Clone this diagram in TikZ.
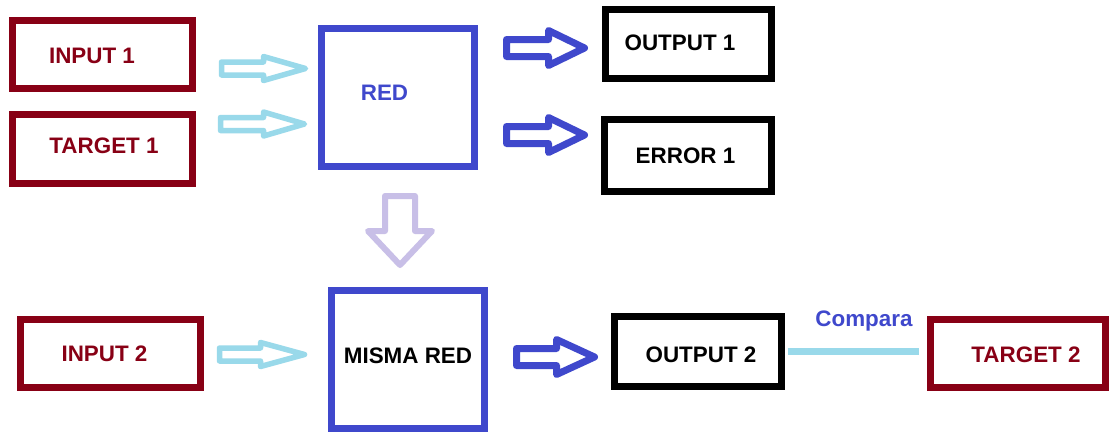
\documentclass[tikz,border=0pt]{standalone}
\usepackage{fontspec}
\setmainfont{Liberation Sans}
\definecolor{dred}{HTML}{880015}
\definecolor{indig}{HTML}{3F48CC}
\definecolor{lcyan}{HTML}{99D9EA}
\definecolor{lav}{HTML}{C8BFE7}
% style, x tail, x tip, x head start, y centre, shaft half, head half
\newcommand{\myblockarrowH}[7]{%
  \draw[#1] (#2,#5-#6) -- (#4,#5-#6) -- (#4,#5-#7) -- (#3,#5) -- (#4,#5+#7) -- (#4,#5+#6) -- (#2,#5+#6) -- cycle;}
\begin{document}
\begin{tikzpicture}[x=1pt,y=-1pt,
  box/.style={draw=#1,line width=7pt,inner sep=0pt,fill=white},
  lab/.style={font=\fontsize{22.4}{26}\selectfont\bfseries,anchor=base,inner sep=0pt},
  carrow/.style={draw=lcyan,line width=5.5pt,line join=round,fill=white},
  barrow/.style={draw=indig,line width=7pt,line join=round,fill=white},
  parrow/.style={draw=lav,line width=6pt,line join=round,fill=white}]
\useasboundingbox (0,0) rectangle (1109,432);
\fill[white] (0,0) rectangle (1109,432);

% boxes
\node[box=dred,minimum width=180pt,minimum height=68pt] (in1) at (102.5,54.5) {};
\node[box=dred,minimum width=180pt,minimum height=69pt] (tg1) at (102.5,149) {};
\node[box=indig,minimum width=153pt,minimum height=138pt] (red) at (398,97.5) {};
\node[box=black,minimum width=166pt,minimum height=69pt] (out1) at (688.5,44) {};
\node[box=black,minimum width=167pt,minimum height=72pt] (err1) at (688,155.5) {};
\node[box=dred,minimum width=180pt,minimum height=68pt] (in2) at (110.5,353.5) {};
\node[box=indig,minimum width=153pt,minimum height=138pt] (misma) at (408,359.5) {};
\node[box=black,minimum width=167pt,minimum height=70pt] (out2) at (698,351.5) {};
\node[box=dred,minimum width=175pt,minimum height=68pt] (tg2) at (1018,353.5) {};

% labels
\node[lab,text=dred] (lin1) at (92,63) {INPUT 1};
\node[lab,text=dred] (ltg1) at (104,153) {TARGET 1};
\node[lab,text=indig] (lred) at (384.5,100) {RED};
\node[lab] (lout1) at (680,50) {OUTPUT 1};
\node[lab] (lerr1) at (685.5,163) {ERROR 1};
\node[lab,text=dred] (lin2) at (104.5,361) {INPUT 2};
\node[lab] (lmisma) at (408,363) {MISMA RED};
\node[lab] (lout2) at (701,362) {OUTPUT 2};
\node[lab,text=dred] (ltg2) at (1026,362) {TARGET 2};

% compare line
\draw[lcyan,line width=7pt,shorten <=2.5pt,shorten >=8.5pt] (out2.east) -- (out2.east -| tg2.west);
\node[lab,text=indig] (lcmp) at (864,326) {Compara};

% block arrows
\myblockarrowH{carrow}{221.5}{305.5}{263.5}{68.5}{6.5}{12}
\myblockarrowH{carrow}{220.5}{304.5}{263.5}{124}{6.5}{12}
\myblockarrowH{carrow}{219.5}{304.5}{260.5}{354.5}{6.5}{12}
\myblockarrowH{barrow}{506.5}{584.5}{548.5}{48}{8.5}{17.5}
\myblockarrowH{barrow}{506.5}{584.5}{548.5}{135}{8.5}{17.5}
\myblockarrowH{barrow}{516.5}{594.5}{556.5}{357}{8.5}{17.5}
\draw[parrow] (385,196) -- (415,196) -- (415,231) -- (432,231) -- (400,265) -- (368,231) -- (385,231) -- cycle;
\end{tikzpicture}
\end{document}
